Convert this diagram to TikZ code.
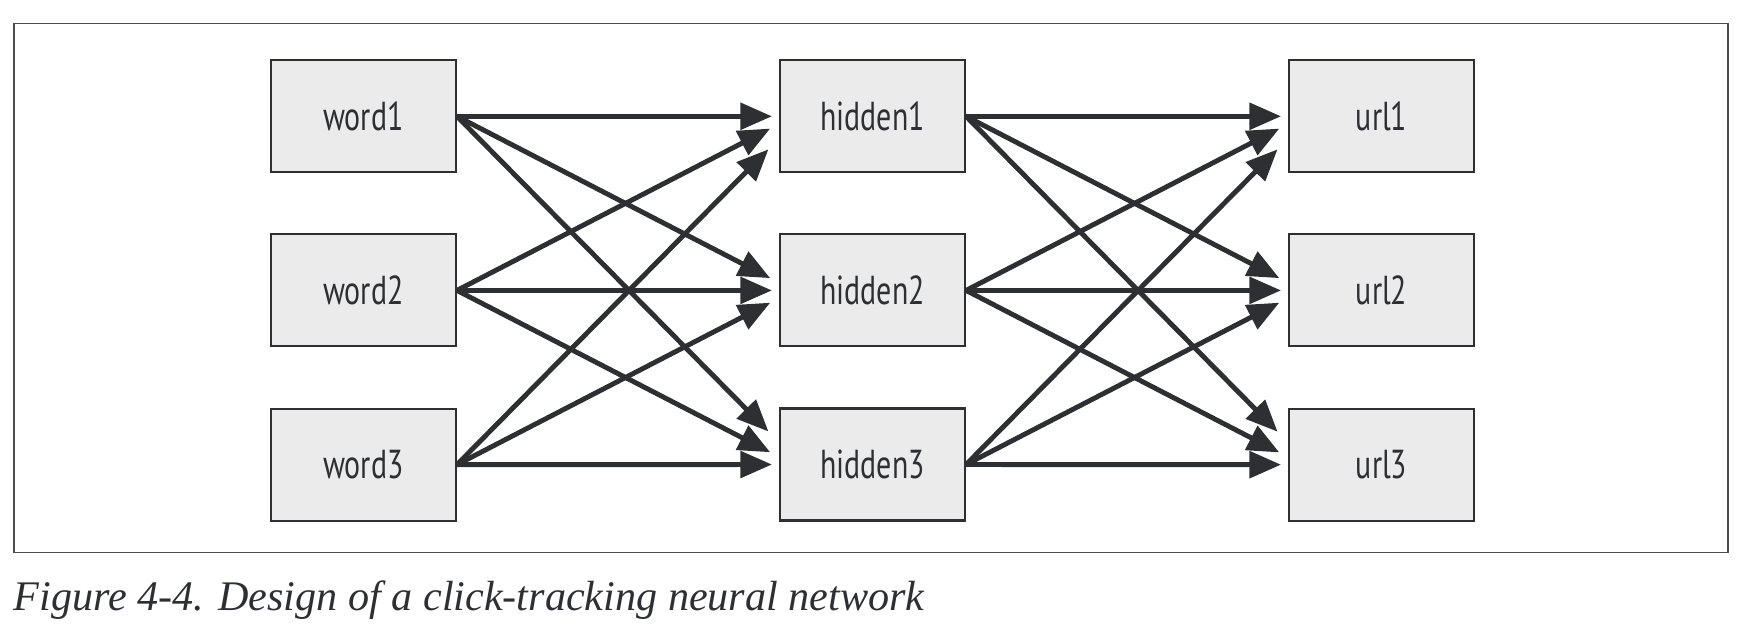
\documentclass[tikz,border=0pt]{standalone}
\usepackage{fontspec}
\setmainfont{Liberation Serif}
\newfontfamily\labelfont{PT Sans}[FakeStretch=0.74]
\usetikzlibrary{matrix}
\usetikzlibrary{arrows.meta}
\definecolor{boxgray}{HTML}{EBEBEB}
\definecolor{ink}{HTML}{2E2F33}

\begin{document}
\begin{tikzpicture}[>={Triangle[length=9pt,width=7.5pt]}]
      \useasboundingbox (0,0) rectangle (17.4,-6.3);
      \draw[line width=0.5pt, black!70] (0.14,-0.235) rectangle (17.28,-5.525);

      \matrix(m)[matrix of nodes, row sep=0.6cm, column sep=3.22cm,
      nodes={draw=ink, fill=boxgray, line width=0.6pt, text=ink,
        minimum width=1.85cm, minimum height=1.12cm,
        font=\labelfont\fontsize{11.5}{13}\selectfont}] at (8.725,-2.905) {
        word1 & hidden1 & url1 \\
        word2 & hidden2 & url2 \\
        word3 & hidden3 & url3 \\};

      \begin{scope}[draw=ink, line width=1.4pt]
        \path[->] (m-1-1.east) edge ([xshift=-2pt]m-1-2.west)
                               edge ([shift={(-2.5pt,3.5pt)}]m-2-2.west)
                               edge ([shift={(-3pt,9.4pt)}]m-3-2.west);
        \path[->] (m-2-1.east) edge ([shift={(-2.5pt,-3.5pt)}]m-1-2.west)
                               edge ([xshift=-2pt]m-2-2.west)
                               edge ([shift={(-2.5pt,3.5pt)}]m-3-2.west);
        \path[->] (m-3-1.east) edge ([shift={(-3pt,-9.4pt)}]m-1-2.west)
                               edge ([shift={(-2.5pt,-3.5pt)}]m-2-2.west)
                               edge ([xshift=-2pt]m-3-2.west);

        \path[->] (m-1-2.east) edge ([xshift=-2pt]m-1-3.west)
                               edge ([shift={(-2.5pt,3.5pt)}]m-2-3.west)
                               edge ([shift={(-3pt,9.4pt)}]m-3-3.west);
        \path[->] (m-2-2.east) edge ([shift={(-2.5pt,-3.5pt)}]m-1-3.west)
                               edge ([xshift=-2pt]m-2-3.west)
                               edge ([shift={(-2.5pt,3.5pt)}]m-3-3.west);
        \path[->] (m-3-2.east) edge ([shift={(-3pt,-9.4pt)}]m-1-3.west)
                               edge ([shift={(-2.5pt,-3.5pt)}]m-2-3.west)
                               edge ([xshift=-2pt]m-3-3.west);
      \end{scope}

      \node[anchor=base west, inner sep=0, text=ink,
        font=\itshape\fontsize{12}{14}\selectfont] (caption) at (0.13,-6.11)
        {Figure 4-4. Design of a click-tracking neural network};
\end{tikzpicture}
\end{document}
